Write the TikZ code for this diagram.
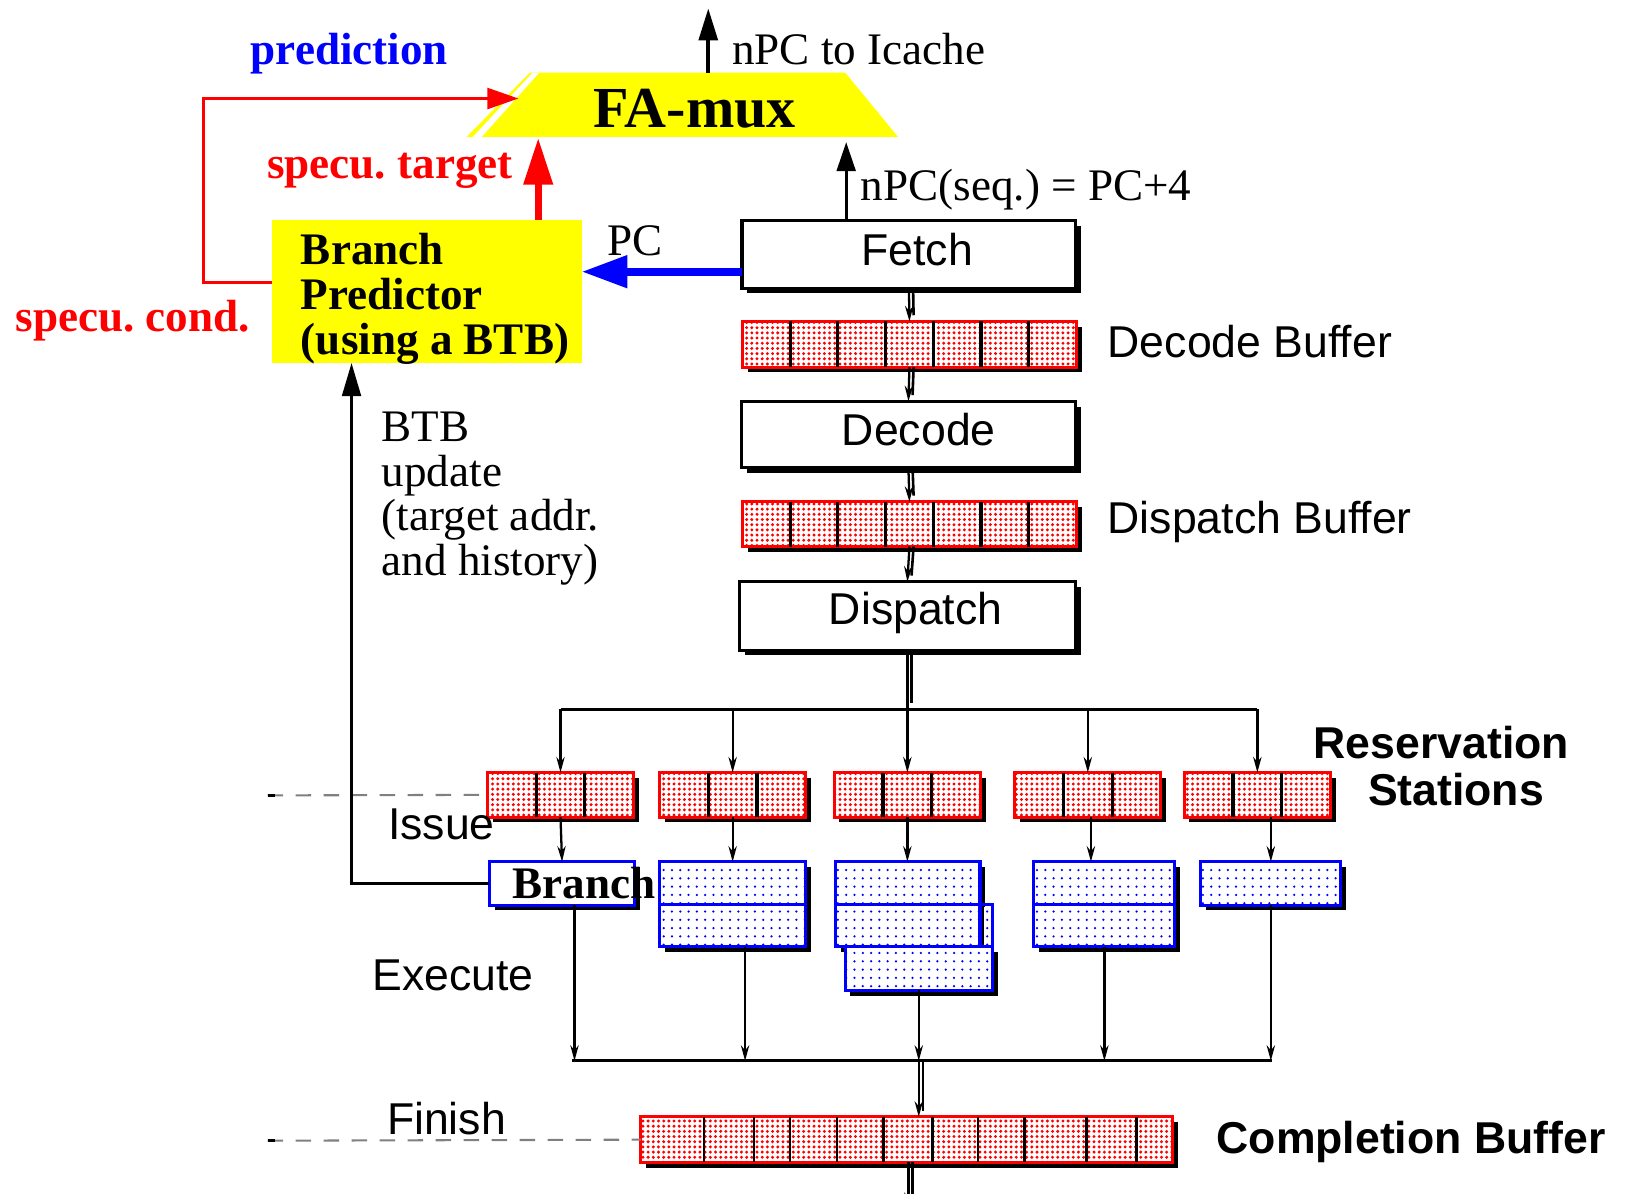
\documentclass[tikz,border=0pt]{standalone}
\usepackage{fontspec}
\setmainfont{Liberation Serif}
\setsansfont{Liberation Sans}
\usetikzlibrary{arrows.meta,calc,shadows,patterns.meta}
\frenchspacing

\definecolor{boxyellow}{RGB}{255,255,0}
\newcommand\serifsize{\fontsize{43.5}{43.5}\selectfont}
\newcommand\sanssize{\fontsize{43}{45}\selectfont\sffamily}

\tikzset{
  boxshadow/.style={drop shadow={shadow xshift=5pt,shadow yshift=-5pt,fill=black,opacity=1}},
  stagebox/.style={draw=black,line width=3pt,fill=white,boxshadow,inner sep=0pt,outer sep=0pt,minimum width=322pt},
  bufferbox/.style={draw=red,line width=3pt,boxshadow,preaction={fill=white},
     pattern={Dots[distance=5pt,radius=1.6pt]},pattern color=red,inner sep=0pt,outer sep=0pt,minimum height=44pt},
  unitbox/.style={draw=blue,line width=3pt,boxshadow,preaction={fill=white},
     pattern={Dots[distance=8pt,radius=1.2pt]},pattern color=blue,inner sep=0pt,outer sep=0pt},
  cell/.style={line width=3pt},
  flow/.style={line width=2.2pt,-{Stealth[length=15pt,width=8pt]}},
  flowshade/.style={line width=2.5pt},
  sanslabel/.style={font=\sanssize,inner sep=0pt},
  seriflabel/.style={font=\serifsize,inner sep=0pt},
  guide/.style={gray,line width=2pt,dash pattern=on 15pt off 12pt},
}

\begin{document}
\begin{tikzpicture}[x=1pt,y=-1pt]
\useasboundingbox (0,0) rectangle (1568,1151);

% ---------- fetch-address multiplexer ----------
\fill[boxyellow] (450,132) -- (511,70) -- (815,70) -- (866,132) -- cycle;
\fill[white] (456,132) -- (464.5,132) -- (520,70) -- (513.7,70) -- cycle;
\node[font=\fontsize{56}{56}\selectfont\bfseries,inner sep=0pt] (mux) at (670,105) {FA-mux};
\coordinate (muxOut) at (683,70);
\coordinate (icache) at (683,8);
\coordinate (muxIn) at (500,95);
\coordinate (muxTgt) at (519,133);
\coordinate (muxSeq) at (816,137);

\draw[line width=4pt,-{Triangle[length=31pt,width=18pt]}] (muxOut) -- (icache);
\node[seriflabel,anchor=west] (icachelbl) at (706,47) {nPC to Icache};
\node[font=\serifsize\bfseries,text=blue,inner sep=0pt] (predlbl) at (337,52) {prediction};

% ---------- branch predictor ----------
\node[fill=boxyellow,minimum width=299pt,minimum height=138pt,inner sep=0pt,outer sep=0pt] (bp) at (411.5,281) {};
\node[font=\serifsize\bfseries,align=left,anchor=west,inner sep=0pt] (bptext) at (290,288)
  {Branch\\Predictor\\(using a BTB)};

\draw[red,line width=3pt,-{Triangle[length=30pt,width=20pt]}]
  (bp.west |- 0,272) -- (196,272) -- (196,95) -- (muxIn);
\draw[red,line width=7pt,-{Triangle[length=45pt,width=27pt]}] (bp.north -| muxTgt) -- (muxTgt);
\node[font=\serifsize\bfseries,text=red,inner sep=0pt] (tgtlbl) at (376,165) {specu. target};
\node[font=\serifsize\bfseries,text=red,inner sep=0pt] (condlbl) at (128,309) {specu. cond.};

% ---------- in-order front end ----------
\node[stagebox,minimum height=65pt] (fetch) at (876.5,245.5) {};
\node[sanslabel] (fetchlbl) at ($(fetch.center)+(8,-5)$) {Fetch};
\node[bufferbox,minimum width=322pt] (decbuf) at (877,332) {};
\node[stagebox,minimum height=64pt] (decode) at (876,419) {};
\node[sanslabel] (decodelbl) at ($(decode.center)+(10,-5)$) {Decode};
\node[bufferbox,minimum width=322pt,minimum height=43pt] (dispbuf) at (877,505.5) {};
\node[stagebox,minimum width=324pt,minimum height=66pt] (dispatch) at (875,594) {};
\node[sanslabel] (dispatchlbl) at ($(dispatch.center)+(8,-3)$) {Dispatch};

\foreach \b in {decbuf,dispbuf}
  \foreach \k in {1,...,6}
    \draw[cell] ($(\b.north west)!\k/7!(\b.north east)$) -- ($(\b.south west)!\k/7!(\b.south east)$);

\node[sanslabel,anchor=west] (decbuflbl) at (1068,329) {Decode Buffer};
\node[sanslabel,anchor=west] (dispbuflbl) at (1068,503) {Dispatch Buffer};

% fetch address towards the predictor and the sequential path
\draw[blue,line width=7.5pt,-{Triangle[length=44pt,width=30pt]}] (fetch.west |- 0,262) -- (bp.east |- 0,262);
\node[seriflabel] (pclbl) at (612,232) {PC};
\draw[line width=3pt,-{Triangle[length=28pt,width=18pt]}] (fetch.north -| muxSeq) -- (muxSeq);
\node[seriflabel,anchor=west] (seqlbl) at (830,183) {nPC(seq.) = PC+4};

% stage-to-stage transfers
\foreach \a/\b in {fetch/decbuf,decbuf/decode,decode/dispbuf,dispbuf/dispatch}{
  \draw[flowshade] ($(\a.south)+(4,0)$) -- ($(\b.north)+(4,-6)$);
  \draw[flow] (\a.south) -- (\b.north);
}

% ---------- dispatch bus and reservation stations ----------
\coordinate (busL) at (541,684);
\coordinate (busR) at (1212,684);
\draw[flowshade] ($(dispatch.south)+(4,0)$) -- ($(dispatch.south |- busL)+(4,-6)$);
\draw[line width=2.2pt] (dispatch.south) -- (dispatch.south |- busL);
\draw[line width=3pt] (busL) -- (busR);

\foreach \n/\x in {1/540.5,2/706.5,3/875,4/1049,5/1212.5}{
  \node[bufferbox,minimum width=141pt,minimum height=43pt] (rs\n) at (\x,766.5) {};
  \foreach \k in {1,2}
    \draw[cell] ($(rs\n.north west)!\k/3!(rs\n.north east)$) -- ($(rs\n.south west)!\k/3!(rs\n.south east)$);
  \draw[flow] (rs\n.north |- busL) -- (rs\n.north);
}
\node[sanslabel,font=\sanssize\bfseries] (rslbla) at (1390,716) {Reservation};
\node[sanslabel,font=\sanssize\bfseries] (rslblb) at (1404,761) {Stations};

% issue guide
\coordinate (issueL) at (258,767);
\draw[guide] (issueL) -- (rs1.west);
\draw[line width=2.5pt] (issueL) -- ++(7,0);
\node[sanslabel,anchor=west] (issuelbl) at (374,795) {Issue};

% ---------- execution units ----------
\node[draw=blue,line width=3pt,fill=white,boxshadow,minimum width=140pt,minimum height=42pt,inner sep=0pt,outer sep=0pt] (br) at (542,852) {};
\node[font=\serifsize\bfseries,inner sep=0pt] (brtext) at (563,852) {Branch};

\node[unitbox,minimum width=141pt,minimum height=82pt] (eu2) at (706.5,872) {};
\draw[blue,line width=3pt] (eu2.west) -- (eu2.east);

\node[unitbox,minimum width=139pt,minimum height=82pt] (eu3) at (875.5,872) {};
\node[unitbox,minimum width=142pt,minimum height=42pt] (eu3c) at (886,934) {};
\fill[white] (949,874.5) rectangle (955.5,911.5);
\fill[pattern={Dots[distance=8pt,radius=1.2pt]},pattern color=blue] (949,874.5) rectangle (955.5,911.5);
\draw[blue,line width=3pt] (eu3.west) -- (eu3.east) -- (eu3.east -| eu3c.east) -- (eu3c.north east);

\node[unitbox,minimum width=136pt,minimum height=82pt] (eu4) at (1065,872) {};
\draw[blue,line width=3pt] (eu4.west) -- (eu4.east);

\node[unitbox,minimum width=135pt,minimum height=42pt] (eu5) at (1225.5,852) {};

\draw[flow] (rs1.south) -- (br.north);
\draw[flow] (rs2.south) -- (eu2.north);
\draw[flow] (rs3.south) -- (rs3.south |- eu3.north);
\draw[flow] (rs4.south -| 1052,0) -- (eu4.north -| 1052,0);
\draw[flow] (eu5.north |- rs5.south) -- (eu5.north);

\node[sanslabel,anchor=west] (execlbl) at (359,941) {Execute};

% branch resolution updates the BTB
\draw[line width=3pt,-{Triangle[length=32pt,width=18pt]}] (br.west) -| (339,0 |- bp.south);
\node[seriflabel,align=left,anchor=west,font=\fontsize{43.5}{43}\selectfont] (btblbl) at (368,481)
  {BTB\\update\\(target addr.\\and history)};

% ---------- finish bus and completion buffer ----------
\coordinate (finL) at (552,1023);
\coordinate (finR) at (1227,1023);
\coordinate (finM) at (886,1023);
\coordinate (brout) at ($(br.south)+(12,0)$);
\coordinate (eu2out) at ($(eu2.south)+(12,0)$);
\draw[flow] (brout) -- (brout |- finL);
\draw[flow] (eu2out) -- (eu2out |- finL);
\draw[flow] (eu3c.south) -- (eu3c.south |- finL);
\draw[flow] (eu4.south) -- (eu4.south |- finL);
\draw[flow] (eu5.south) -- (eu5.south |- finL);
\draw[line width=3pt] (finL) -- (finR);

\node[bufferbox,minimum width=513pt,minimum height=44pt] (cb) at (874.5,1099) {};
\foreach \x in {679,727,762,807,852,899,943,988,1048,1096}
  \draw[line width=2.5pt] (\x,0 |- cb.north) -- (\x,0 |- cb.south);
\draw[flowshade] ($(finM)+(4,0)$) -- ($(finM |- cb.north)+(4,-6)$);
\draw[flow] (finM) -- (finM |- cb.north);
\node[sanslabel,font=\sanssize\bfseries,anchor=west] (cblbl) at (1173,1101) {Completion Buffer};

\coordinate (retire) at (876,1165);
\draw[flowshade] ($(cb.south -| retire)+(4,0)$) -- ($(retire)+(4,0)$);
\draw[flow] (cb.south -| retire) -- (retire);

% finish guide
\coordinate (finishL) at (258,1100);
\draw[guide] (finishL) -- (cb.west);
\draw[line width=2.5pt] (finishL) -- ++(7,0);
\node[sanslabel,anchor=west] (finishlbl) at (373,1079) {Finish};

\end{tikzpicture}
\end{document}
